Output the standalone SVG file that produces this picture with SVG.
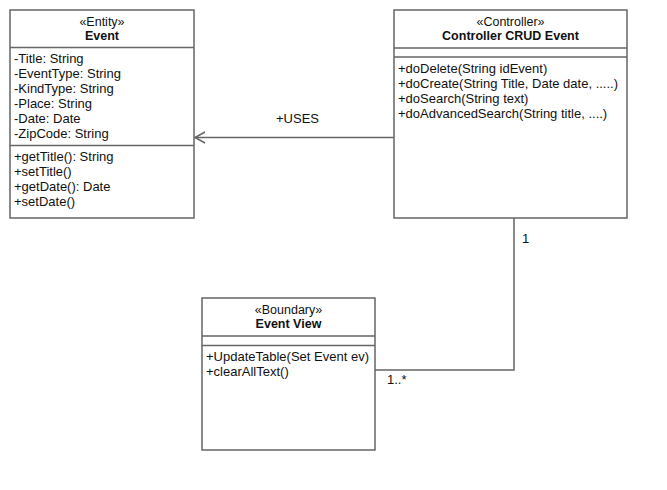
<svg xmlns="http://www.w3.org/2000/svg" width="667" height="490" viewBox="0 0 667 490">
<style>
.box{fill:#fff;stroke:#666;stroke-width:1.5}
.ln{stroke:#666;stroke-width:1.5;fill:none}
text{font-family:"Liberation Sans",Arial,sans-serif;font-size:13px;fill:#111}
.st{font-size:12.5px;text-anchor:middle}
.nm{font-size:12.5px;font-weight:bold;text-anchor:middle}
</style>
<rect width="667" height="490" fill="#fff"/>
<g id="connectors">
<path class="ln" d="M394 137.5H195"/>
<path class="ln" d="M205 132 L195 137.5 L205 143"/>
<path class="ln" d="M514 218V370H375"/>
<text x="276" y="123">+USES</text>
<text x="522" y="243">1</text>
<text x="387" y="384">1..*</text>
</g>
<g id="event">
<rect class="box" x="10" y="10" width="184" height="208"/>
<path class="ln" d="M10 47.5H194M10 145.5H194"/>
<text class="st" x="102" y="26">«Entity»</text>
<text class="nm" x="102" y="40">Event</text>
<text x="14" y="63">-Title: String</text>
<text x="14" y="78">-EventType: String</text>
<text x="14" y="93">-KindType: String</text>
<text x="14" y="108">-Place: String</text>
<text x="14" y="123">-Date: Date</text>
<text x="14" y="138">-ZipCode: String</text>
<text x="14" y="161">+getTitle(): String</text>
<text x="14" y="176">+setTitle()</text>
<text x="14" y="191">+getDate(): Date</text>
<text x="14" y="206">+setDate()</text>
</g>
<g id="controller">
<rect class="box" x="394" y="10" width="233" height="208"/>
<path class="ln" d="M394 48H627M394 57H627"/>
<text class="st" x="510.5" y="26">«Controller»</text>
<text class="nm" x="510.5" y="40">Controller CRUD Event</text>
<text x="398" y="73">+doDelete(String idEvent)</text>
<text x="398" y="88">+doCreate(String Title, Date date, .....)</text>
<text x="398" y="103">+doSearch(String text)</text>
<text x="398" y="118">+doAdvancedSearch(String title, ....)</text>
</g>
<g id="eventview">
<rect class="box" x="202" y="298" width="173" height="152"/>
<path class="ln" d="M202 336H375M202 345.5H375"/>
<text class="st" x="288.5" y="314">«Boundary»</text>
<text class="nm" x="288.5" y="328">Event View</text>
<text x="206" y="361">+UpdateTable(Set Event ev)</text>
<text x="206" y="376">+clearAllText()</text>
</g>
</svg>
